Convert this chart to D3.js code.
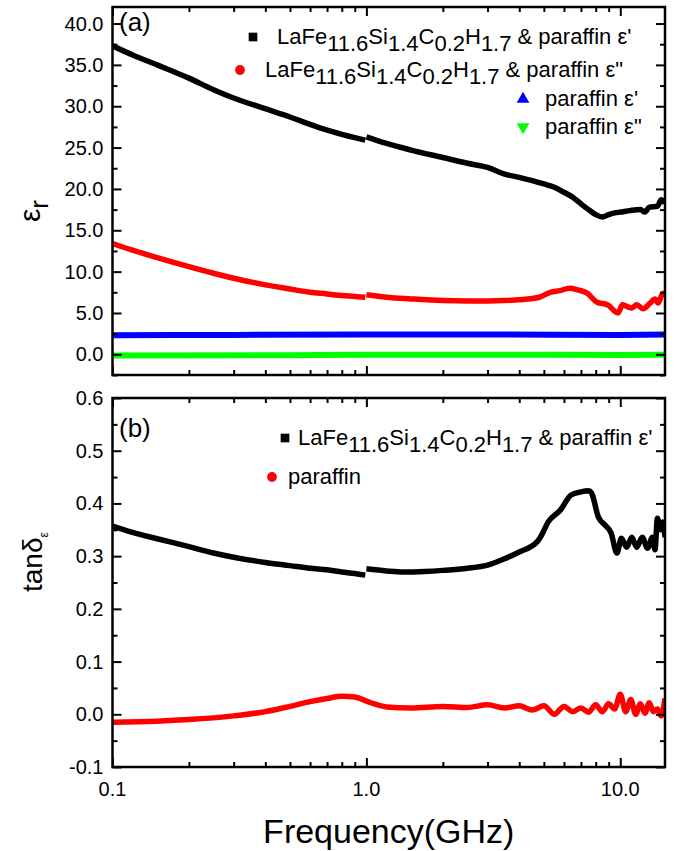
<!DOCTYPE html>
<html><head><meta charset="utf-8">
<script src="https://cdn.jsdelivr.net/npm/d3@7"></script>
<style>body{margin:0;background:#fff} text{font-family:"Liberation Sans",Arial,sans-serif;fill:#000}</style>
</head><body><svg id="c" width="677" height="851"></svg>
<script>
// ---------- data ----------
// Panel (a): relative permittivity
const epsRealLoF = [0.1,0.12,0.15,0.2,0.25,0.3,0.4,0.5,0.6,0.7,0.8,0.9,0.99];
const epsRealLoV = [37.3,36.2,35.0,33.4,32.0,31.0,29.7,28.7,27.8,27.1,26.6,26.2,25.9];
const epsRealHiF = [1.0,1.2,1.5,2.0,2.5,3.0,3.5,4.0,4.5,5.0,5.5,6.0,6.5,7.0,7.5,8.0,8.5,9.0,9.5,10,11,12,12.5,13,14,14.5,15];
const epsRealHiV = [26.3,25.5,24.7,23.8,23.1,22.6,21.8,21.4,21.0,20.6,20.2,19.6,19.0,18.2,17.5,16.9,16.6,16.9,17.1,17.2,17.4,17.5,17.2,17.8,17.9,18.7,18.3];
const epsImagLoF = [0.1,0.12,0.15,0.2,0.25,0.3,0.4,0.5,0.6,0.7,0.8,0.9,0.99];
const epsImagLoV = [13.4,12.6,11.7,10.6,9.8,9.2,8.4,7.9,7.5,7.3,7.1,7.0,6.9];
const epsImagHiF = [1.0,1.2,1.5,2.0,2.5,3.0,3.5,4.0,4.8,5.3,5.8,6.3,6.8,7.4,8.1,8.9,9.8,10.2,10.6,11.1,11.6,12.3,13.1,13.7,14.1,14.7,15];
const epsImagHiV = [7.2,6.9,6.7,6.5,6.45,6.45,6.5,6.6,6.9,7.5,7.7,8.0,7.8,7.4,6.3,6.0,5.0,6.0,5.8,5.6,6.0,5.5,6.2,6.7,6.2,7.4,7.0];
const parRealF = [0.1,0.3,1,3,10,15];
const parRealV = [2.3,2.35,2.4,2.4,2.35,2.4];
const parImagF = [0.1,0.5,1,3,10,15];
const parImagV = [-0.15,-0.1,-0.05,-0.05,-0.08,-0.05];
// Panel (b): loss tangent
const tanLoF = [0.1,0.12,0.15,0.2,0.25,0.3,0.4,0.5,0.6,0.7,0.8,0.9,0.99];
const tanLoV = [0.357,0.345,0.333,0.318,0.306,0.298,0.288,0.282,0.277,0.274,0.270,0.267,0.264];
const tanHiF = [1.0,1.2,1.4,1.7,2.0,2.5,3.0,3.5,4.0,4.7,4.9,5.2,5.8,6.4,7.0,7.5,7.7,8.2,8.7,9.2,9.7,10.1,10.6,11.1,11.6,12.2,12.8,13.4,13.7,14.0,14.4,14.7,15];
const tanHiV = [0.276,0.272,0.270,0.271,0.273,0.277,0.283,0.295,0.308,0.327,0.340,0.365,0.387,0.416,0.422,0.424,0.420,0.374,0.359,0.344,0.306,0.334,0.317,0.336,0.317,0.336,0.315,0.336,0.312,0.372,0.350,0.365,0.336];
const tanParF = [0.1,0.15,0.2,0.3,0.4,0.5,0.6,0.7,0.8,0.9,1.0,1.2,1.5,2.0,2.5,3.0,3.5,4.0,4.5,5.0,5.5,6.0,6.5,7.0,7.5,8.0,8.5,9.0,9.5,10,10.5,11,11.5,12,12.5,13,13.5,14,14.5,15];
const tanParV = [-0.015,-0.013,-0.01,-0.003,0.005,0.015,0.024,0.030,0.034,0.033,0.025,0.014,0.012,0.015,0.013,0.018,0.012,0.016,0.008,0.016,0.0,0.015,0.005,0.012,0.004,0.018,0.005,0.02,0.01,0.038,0.005,0.028,0.0,0.02,0.002,0.022,0.005,0.01,-0.003,0.03];
// ticks / labels
const xMajor = [0.1,1,10];
const xMinor = [0.2,0.3,0.4,0.5,0.6,0.7,0.8,0.9,2,3,4,5,6,7,8,9];
const xLabels = ["0.1","1.0","10.0"];
const yTopMajor = [0,5,10,15,20,25,30,35,40];
const yTopMinor = [-2.5,2.5,7.5,12.5,17.5,22.5,27.5,32.5,37.5];
const yBotMajor = [-0.1,0,0.1,0.2,0.3,0.4,0.5,0.6];
const yBotMinor = [-0.05,0.05,0.15,0.25,0.35,0.45,0.55];
const legendA = ["& paraffin ε'", "& paraffin ε\"", "paraffin ε'", "paraffin ε\""];

// ---------- layout ----------
const svg = d3.select("#c");
const L = 112.5, R = 665;
const topY = [7, 375], botY = [398, 767];
const x = d3.scaleLog().domain([0.1, 15]).range([L, R]);
const yA = d3.scaleLinear().domain([-2.5, 42]).range([topY[1], topY[0]]);
const yB = d3.scaleLinear().domain([-0.1, 0.6]).range([botY[1], botY[0]]);

function pts(fs, vs){ return fs.map((f,i)=>[f, vs[i]]); }
function drawLine(g, y, fs, vs, color, w){
  const line = d3.line().x(d=>x(d[0])).y(d=>y(d[1])).curve(d3.curveMonotoneX);
  g.append("path").attr("d", line(pts(fs,vs))).attr("fill","none")
   .attr("stroke",color).attr("stroke-width",w).attr("stroke-linejoin","round").attr("stroke-linecap","butt");
}
function clip(id, y0, y1){
  svg.append("clipPath").attr("id",id).append("rect").attr("x",L).attr("y",y0).attr("width",R-L).attr("height",y1-y0);
}
clip("ca", topY[0], topY[1]); clip("cb", botY[0], botY[1]);

// panel a lines
const ga = svg.append("g").attr("clip-path","url(#ca)");
drawLine(ga, yA, parImagF, parImagV, "#00ff00", 6);
drawLine(ga, yA, parRealF, parRealV, "#0000ff", 6);
drawLine(ga, yA, epsImagLoF, epsImagLoV, "#ff0000", 5.5);
drawLine(ga, yA, epsImagHiF, epsImagHiV, "#ff0000", 5.5);
drawLine(ga, yA, epsRealLoF, epsRealLoV, "#000", 5.5);
drawLine(ga, yA, epsRealHiF, epsRealHiV, "#000", 5.5);
// panel b lines
const gb = svg.append("g").attr("clip-path","url(#cb)");
drawLine(gb, yB, tanParF, tanParV, "#ff0000", 5.5);
drawLine(gb, yB, tanLoF, tanLoV, "#000", 5.5);
drawLine(gb, yB, tanHiF, tanHiV, "#000", 5.5);

// axes
function frameAxes(y, yr, yMaj, yMin, fmt, showX){
  const ax = (gen, tr) => svg.append("g").attr("transform", tr).call(gen)
     .call(g=>{g.select(".domain").remove(); g.selectAll("line").attr("stroke","#000").attr("stroke-width",2);
               g.selectAll("text").remove();});
  ax(d3.axisBottom(x).tickValues(xMajor).tickSize(-9).tickFormat(""), `translate(0,${yr[1]})`);
  ax(d3.axisBottom(x).tickValues(xMinor).tickSize(-5).tickFormat(""), `translate(0,${yr[1]})`);
  ax(d3.axisTop(x).tickValues(xMajor).tickSize(-9).tickFormat(""), `translate(0,${yr[0]})`);
  ax(d3.axisTop(x).tickValues(xMinor).tickSize(-5).tickFormat(""), `translate(0,${yr[0]})`);
  ax(d3.axisLeft(y).tickValues(yMaj).tickSize(-9), `translate(${L},0)`);
  ax(d3.axisLeft(y).tickValues(yMin).tickSize(-5), `translate(${L},0)`);
  ax(d3.axisRight(y).tickValues(yMaj).tickSize(-9), `translate(${R},0)`);
  ax(d3.axisRight(y).tickValues(yMin).tickSize(-5), `translate(${R},0)`);
  svg.append("g").selectAll("text").data(yMaj).join("text")
    .attr("x", L-9).attr("y", d=>y(d)+7).attr("text-anchor","end").attr("font-size",20)
    .text(d=>d3.format(fmt)(d).replace("−","-"));
  svg.append("rect").attr("x",L).attr("y",yr[0]).attr("width",R-L).attr("height",yr[1]-yr[0])
    .attr("fill","none").attr("stroke","#000").attr("stroke-width",2.5);
  if(showX){
    svg.append("g").selectAll("text").data(xMajor).join("text")
      .attr("x", d=>x(d)).attr("y", yr[1]+29).attr("text-anchor","middle").attr("font-size",20)
      .text((d,i)=>xLabels[i]);
  }
}
frameAxes(yA, topY, yTopMajor, yTopMinor, ".1f", false);
frameAxes(yB, botY, yBotMajor, yBotMinor, ".1f", true);

// axis titles
svg.append("text").attr("x", (L+R)/2).attr("y", 843).attr("text-anchor","middle").attr("font-size",34).text("Frequency(GHz)");
svg.append("text").attr("transform","translate(40,222) rotate(-90)").attr("font-size",30)
  .text("ε").append("tspan").attr("dy",8).attr("font-size",26).text("r");
const tl = svg.append("text").attr("transform","translate(42,592) rotate(-90)").attr("font-size",28).text("tanδ");
tl.append("tspan").attr("dy",6).attr("font-size",12).text("ε");

// panel letters
svg.append("text").attr("x",119).attr("y",31).attr("font-size",26).text("(a)");
svg.append("text").attr("x",119).attr("y",437).attr("font-size",26).text("(b)");

// legends
const SUB = 7;
function formula(t){
  const parts = [["LaFe",0],["11.6",1],["Si",0],["1.4",1],["C",0],["0.2",1],["H",0],["1.7",1]];
  let prev = 0;
  parts.forEach(([s,sub])=>{ t.append("tspan").attr("dy", (sub-prev)*SUB).text(s); prev = sub; });
  return prev;
}
function legendRow(xSym, ySym, symbol, color, xText, yBase, withFormula, tail, fs){
  const sym = svg.append("path").attr("transform",`translate(${xSym},${ySym})`).attr("fill",color)
     .attr("d", d3.symbol().type(symbol.type).size(symbol.size)());
  if(symbol.flip) sym.attr("transform",`translate(${xSym},${ySym}) rotate(180)`);
  const t = svg.append("text").attr("x",xText).attr("y",yBase).attr("font-size",fs);
  if(withFormula){ const p = formula(t); t.append("tspan").attr("dy",-p*SUB).text(" "+tail); }
  else t.text(tail);
}
const sq = {type:d3.symbolSquare,size:75}, ci={type:d3.symbolCircle,size:75}, tr={type:d3.symbolTriangle,size:70};
legendRow(253, 37, sq, "#000", 277, 44, true, legendA[0], 22);
legendRow(240, 70, ci, "#ff0000", 265, 77, true, legendA[1], 22);
legendRow(523, 99, tr, "#0000ff", 545, 106, false, legendA[2], 22);
legendRow(523, 127, {...tr, flip:true}, "#00ff00", 545, 134, false, legendA[3], 22);
legendRow(285, 438, sq, "#000", 298, 445, true, legendA[0], 22);
legendRow(272, 477, ci, "#ff0000", 288, 484, false, "paraffin", 22);
</script></body></html>
